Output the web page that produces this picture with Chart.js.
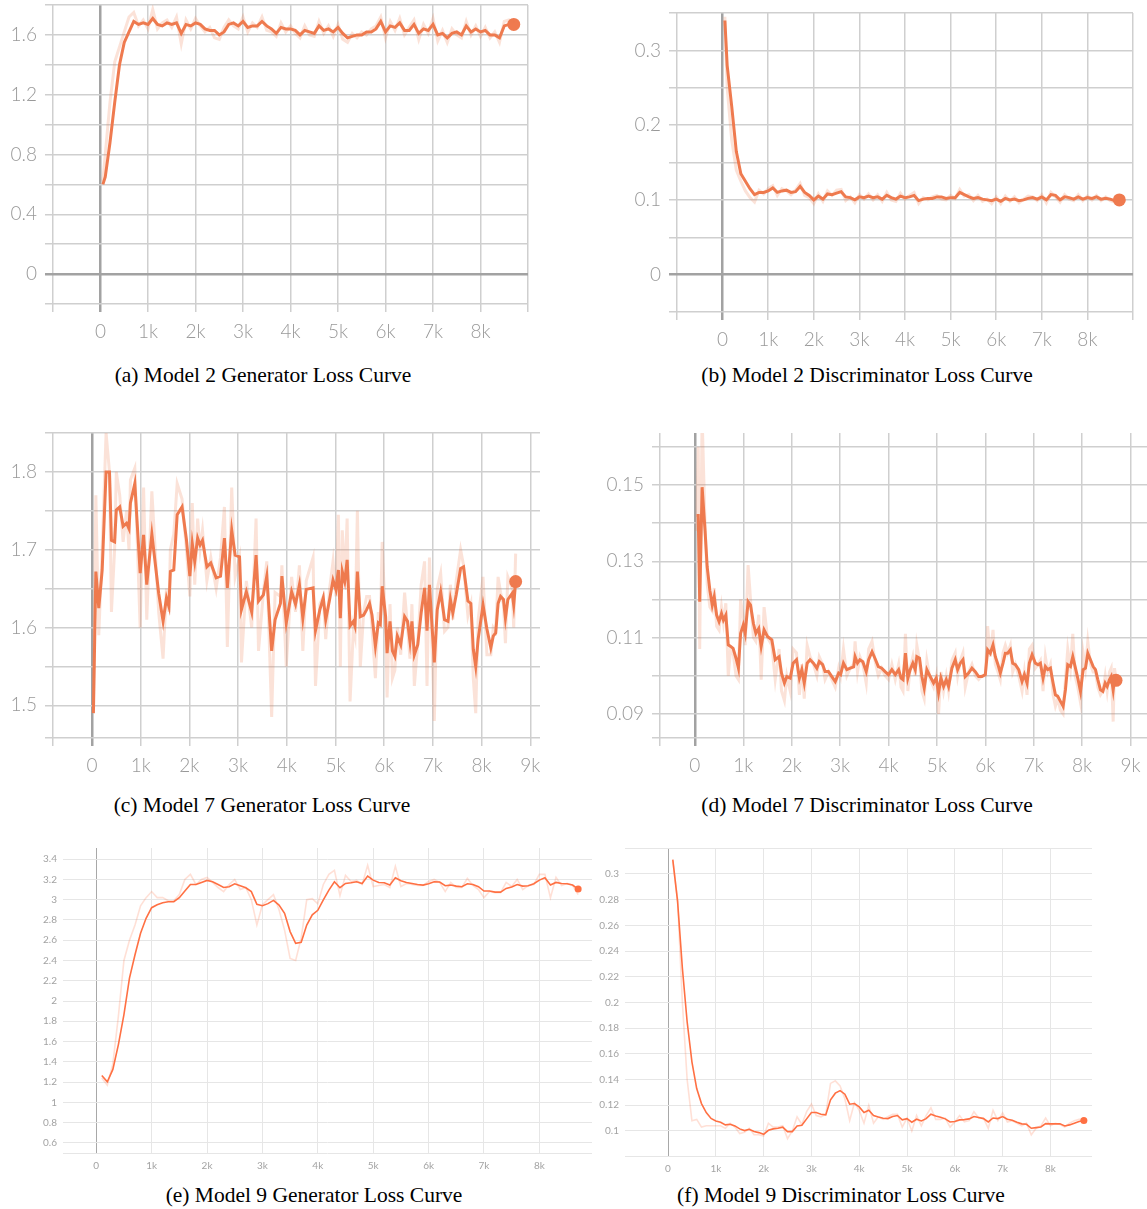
<!DOCTYPE html>
<html lang="en">
<head>
<meta charset="UTF-8">
<title>Loss Curves</title>
<script src="https://cdn.jsdelivr.net/npm/chart.js"></script>
<style>
  html, body { margin: 0; padding: 0; background: #fff; }
  body { position: relative; width: 1147px; height: 1209px; overflow: hidden; }
  canvas { position: absolute; }
  .caption {
    position: absolute; width: 500px; text-align: center;
    font-family: "Liberation Serif", "Times New Roman", serif;
    font-size: 21.5px; line-height: 24px; color: #000;
  }
</style>
</head>
<body>

<div class="caption" style="left:13px; top:363px;">(a) Model 2 Generator Loss Curve</div>
<div class="caption" style="left:617px; top:363px;">(b) Model 2 Discriminator Loss Curve</div>
<div class="caption" style="left:12px; top:793px;">(c) Model 7 Generator Loss Curve</div>
<div class="caption" style="left:617px; top:793px;">(d) Model 7 Discriminator Loss Curve</div>
<div class="caption" style="left:64px; top:1183px;">(e) Model 9 Generator Loss Curve</div>
<div class="caption" style="left:591px; top:1183px;">(f) Model 9 Discriminator Loss Curve</div>

<script>
// ---- data ----
const stepsM2 = [50,100,200,300,400,500,600,700,800,900,
    1000,1100,1200,1300,1400,1500,1600,1700,1800,1900,
    2000,2100,2200,2300,2400,2500,2600,2700,2800,2900,
    3000,3100,3200,3300,3400,3500,3600,3700,3800,3900,
    4000,4100,4200,4300,4400,4500,4600,4700,4800,4900,
    5000,5100,5200,5300,5400,5500,5600,5700,5800,5900,
    6000,6100,6200,6300,6400,6500,6600,6700,6800,6900,
    7000,7100,7200,7300,7400,7500,7600,7700,7800,7900,
    8000,8100,8200,8300,8400,8500,8600,8700];

const genLossM2 = [0.60,0.65,0.88,1.15,1.40,1.55,1.62,1.69,1.67,1.68,
    1.67,1.71,1.67,1.66,1.68,1.67,1.68,1.61,1.67,1.66,
    1.68,1.67,1.64,1.63,1.63,1.60,1.62,1.67,1.68,1.66,
    1.69,1.65,1.66,1.66,1.69,1.66,1.64,1.61,1.65,1.64,
    1.64,1.63,1.60,1.63,1.62,1.61,1.66,1.63,1.64,1.62,
    1.65,1.61,1.58,1.59,1.60,1.60,1.62,1.62,1.64,1.69,
    1.62,1.66,1.65,1.68,1.63,1.63,1.67,1.61,1.64,1.63,
    1.67,1.60,1.61,1.58,1.61,1.62,1.60,1.66,1.62,1.64,
    1.62,1.63,1.60,1.60,1.58,1.66,1.67,1.67];

const genLossM2Raw = [0.62,0.80,1.15,1.42,1.52,1.62,1.72,1.75,1.66,1.70,
    1.64,1.77,1.64,1.68,1.70,1.65,1.72,1.54,1.70,1.64,
    1.71,1.66,1.62,1.65,1.58,1.57,1.65,1.70,1.66,1.64,
    1.72,1.62,1.68,1.65,1.72,1.63,1.62,1.59,1.68,1.62,
    1.66,1.61,1.58,1.66,1.60,1.59,1.69,1.61,1.66,1.59,
    1.67,1.57,1.55,1.61,1.58,1.62,1.60,1.64,1.66,1.72,
    1.58,1.69,1.63,1.71,1.60,1.65,1.70,1.57,1.67,1.61,
    1.71,1.56,1.63,1.55,1.64,1.60,1.58,1.69,1.60,1.66,
    1.59,1.65,1.58,1.62,1.55,1.69,1.70,1.68];

const discLossM2 = [0.340,0.280,0.225,0.165,0.135,0.125,0.115,0.107,0.110,0.110,
    0.112,0.116,0.110,0.112,0.113,0.110,0.111,0.118,0.110,0.106,
    0.100,0.105,0.101,0.108,0.107,0.109,0.111,0.104,0.103,0.100,
    0.104,0.103,0.105,0.103,0.104,0.101,0.106,0.103,0.101,0.105,
    0.103,0.104,0.106,0.099,0.101,0.102,0.102,0.104,0.104,0.102,
    0.103,0.103,0.110,0.107,0.104,0.102,0.103,0.101,0.100,0.099,
    0.101,0.098,0.102,0.100,0.101,0.099,0.100,0.102,0.103,0.101,
    0.104,0.100,0.107,0.106,0.100,0.104,0.103,0.101,0.104,0.101,
    0.103,0.102,0.104,0.101,0.102,0.101,0.099,0.100];

const discLossM2Raw = [0.345,0.250,0.180,0.140,0.125,0.112,0.103,0.097,0.113,0.108,
    0.115,0.119,0.106,0.115,0.112,0.107,0.113,0.122,0.106,0.103,
    0.095,0.108,0.098,0.112,0.106,0.113,0.114,0.099,0.104,0.096,
    0.107,0.101,0.108,0.100,0.107,0.098,0.110,0.100,0.098,0.109,
    0.101,0.106,0.110,0.095,0.103,0.100,0.104,0.106,0.101,0.100,
    0.106,0.102,0.114,0.105,0.107,0.099,0.106,0.098,0.101,0.095,
    0.104,0.095,0.105,0.098,0.104,0.096,0.101,0.105,0.104,0.099,
    0.107,0.096,0.110,0.104,0.097,0.107,0.101,0.099,0.107,0.099,
    0.105,0.100,0.106,0.099,0.104,0.099,0.097,0.101];

const stepsGenM7 = [30,80,140,210,290,360,400,465,500,570,
    640,710,760,790,880,990,1060,1125,1230,1370,
    1460,1530,1580,1610,1680,1750,1850,1940,2010,2060,
    2110,2170,2220,2270,2360,2440,2550,2640,2720,2780,
    2870,2940,3030,3070,3170,3280,3370,3420,3520,3590,
    3690,3760,3870,3900,3990,4100,4180,4260,4330,4400,
    4540,4590,4680,4750,4800,4880,4950,5010,5060,5100,
    5140,5190,5240,5300,5370,5400,5450,5510,5580,5640,
    5700,5750,5820,5880,5920,5960,6030,6060,6120,6170,
    6220,6270,6340,6420,6480,6530,6570,6620,6690,6760,
    6830,6880,6930,7030,7090,7160,7240,7310,7360,7410,
    7480,7570,7630,7720,7780,7830,7880,7930,8030,8110,
    8190,8240,8290,8340,8390,8450,8490,8540,8630,8660,
    8700];

const genLossM7 = [1.490,1.672,1.625,1.674,1.800,1.800,1.712,1.710,1.751,1.755,
    1.730,1.734,1.727,1.760,1.785,1.670,1.719,1.655,1.720,1.644,
    1.608,1.638,1.627,1.672,1.674,1.745,1.755,1.713,1.666,1.708,
    1.685,1.715,1.706,1.712,1.678,1.683,1.664,1.666,1.715,1.651,
    1.725,1.693,1.691,1.623,1.646,1.620,1.693,1.634,1.642,1.666,
    1.570,1.610,1.631,1.666,1.606,1.646,1.630,1.655,1.612,1.649,
    1.651,1.596,1.623,1.638,1.610,1.636,1.661,1.649,1.674,1.612,
    1.672,1.659,1.687,1.602,1.608,1.602,1.672,1.614,1.616,1.623,
    1.631,1.616,1.576,1.606,1.604,1.653,1.614,1.567,1.608,1.570,
    1.563,1.589,1.578,1.614,1.608,1.582,1.608,1.565,1.578,1.619,
    1.651,1.596,1.655,1.555,1.623,1.646,1.610,1.608,1.636,1.619,
    1.642,1.676,1.678,1.634,1.631,1.572,1.550,1.585,1.629,1.598,
    1.574,1.589,1.593,1.631,1.640,1.636,1.612,1.636,1.644,1.629,
    1.659];

const genLossM7Raw = [1.500,1.770,1.590,1.700,1.850,1.800,1.620,1.700,1.800,1.770,
    1.710,1.750,1.700,1.790,1.805,1.600,1.780,1.610,1.775,1.620,
    1.560,1.650,1.620,1.700,1.720,1.785,1.765,1.700,1.640,1.760,
    1.655,1.740,1.700,1.725,1.660,1.690,1.650,1.690,1.755,1.575,
    1.780,1.665,1.690,1.555,1.660,1.600,1.740,1.570,1.645,1.685,
    1.485,1.645,1.640,1.680,1.550,1.665,1.620,1.680,1.570,1.660,
    1.690,1.525,1.630,1.640,1.585,1.650,1.685,1.640,1.745,1.550,
    1.725,1.660,1.740,1.505,1.600,1.590,1.750,1.550,1.620,1.640,
    1.640,1.600,1.535,1.620,1.600,1.710,1.600,1.510,1.630,1.535,
    1.545,1.600,1.565,1.645,1.600,1.560,1.630,1.525,1.580,1.655,
    1.685,1.525,1.690,1.480,1.650,1.670,1.595,1.600,1.655,1.610,
    1.660,1.700,1.680,1.615,1.630,1.535,1.490,1.610,1.665,1.565,
    1.565,1.600,1.595,1.665,1.645,1.630,1.580,1.665,1.650,1.600,
    1.695];

const stepsDiscM7 = [35,70,100,150,210,255,310,360,400,450,
    500,550,590,640,690,740,790,850,900,945,
    1000,1040,1100,1150,1210,1260,1320,1370,1430,1500,
    1590,1660,1740,1790,1850,1900,1970,2030,2100,2160,
    2210,2260,2320,2380,2450,2520,2570,2640,2690,2760,
    2830,2900,2970,3010,3070,3140,3210,3280,3310,3360,
    3410,3470,3540,3590,3660,3720,3790,3860,3930,4000,
    4070,4140,4210,4260,4300,4350,4400,4448,4503,4552,
    4586,4641,4690,4738,4793,4862,4931,4986,5034,5083,
    5138,5193,5241,5310,5379,5428,5483,5538,5586,5655,
    5724,5793,5862,5931,6000,6048,6103,6159,6207,6262,
    6310,6366,6414,6462,6517,6566,6621,6690,6759,6807,
    6862,6910,6966,7034,7090,7138,7193,7241,7290,7345,
    7400,7448,7497,7552,7607,7655,7703,7759,7807,7855,
    7910,7966,8021,8069,8117,8172,8228,8276,8324,8379,
    8428,8476,8517,8566,8600,8641,8669,8700];

const discLossM7 = [0.1420,0.1420,0.1194,0.1494,0.1381,0.1285,0.1224,0.1185,0.1207,0.1159,
    0.1142,0.1163,0.1146,0.1159,0.1081,0.1077,0.1072,0.1046,0.1020,0.1111,
    0.1133,0.1111,0.1194,0.1185,0.1137,0.1111,0.1124,0.1077,0.1120,0.1103,
    0.1094,0.1042,0.1050,0.1007,0.0981,0.0998,0.0994,0.1033,0.1042,0.0994,
    0.1016,0.0981,0.1033,0.1042,0.1033,0.1020,0.1037,0.1029,0.1011,0.1011,
    0.0998,0.0985,0.1007,0.1003,0.1033,0.1016,0.1020,0.1023,0.1050,0.1033,
    0.1042,0.1037,0.1011,0.1042,0.1063,0.1046,0.1024,0.1020,0.1011,0.1003,
    0.1016,0.1003,0.1016,0.0994,0.0990,0.1059,0.0994,0.1016,0.1033,0.1016,
    0.1050,0.1046,0.0998,0.0968,0.1016,0.0998,0.0981,0.0994,0.0955,0.0994,
    0.0972,0.0990,0.0972,0.1020,0.1042,0.1016,0.1033,0.1042,0.0998,0.1007,
    0.1020,0.1011,0.0998,0.0998,0.1003,0.1068,0.1059,0.1081,0.1050,0.1029,
    0.1007,0.1033,0.1059,0.1059,0.1068,0.1033,0.1029,0.1016,0.0985,0.1003,
    0.0981,0.1033,0.1055,0.1033,0.1029,0.1033,0.0994,0.1024,0.1016,0.1020,
    0.0981,0.0950,0.0946,0.0933,0.0920,0.0963,0.1029,0.1024,0.1050,0.1024,
    0.0994,0.0959,0.1016,0.1020,0.1059,0.1042,0.1024,0.1016,0.0990,0.0963,
    0.0959,0.0981,0.0972,0.0990,0.0998,0.0963,0.0994,0.0988];

const discLossM7Raw = [0.1380,0.1600,0.1070,0.1680,0.1400,0.1240,0.1180,0.1170,0.1230,0.1130,
    0.1120,0.1180,0.1140,0.1190,0.1000,0.1070,0.1060,0.1000,0.0990,0.1200,
    0.1150,0.1080,0.1290,0.1200,0.1100,0.1090,0.1160,0.0990,0.1180,0.1100,
    0.1080,0.0990,0.1070,0.0960,0.0935,0.1000,0.0960,0.1070,0.1060,0.0950,
    0.1030,0.0940,0.1080,0.1050,0.1030,0.1000,0.1050,0.1030,0.0990,0.1010,
    0.0990,0.0970,0.1020,0.1000,0.1070,0.1000,0.1020,0.1030,0.1090,0.1010,
    0.1050,0.1030,0.0980,0.1070,0.1090,0.1040,0.1000,0.1020,0.1000,0.0990,
    0.1030,0.0990,0.1030,0.0970,0.0960,0.1110,0.0960,0.1020,0.1050,0.1000,
    0.1080,0.1040,0.0960,0.0940,0.1040,0.0990,0.0970,0.1000,0.0900,0.1010,
    0.0960,0.1000,0.0960,0.1040,0.1060,0.1000,0.1040,0.1060,0.0970,0.1010,
    0.1030,0.1000,0.0990,0.1000,0.1000,0.1130,0.1050,0.1120,0.1030,0.1010,
    0.0990,0.1060,0.1080,0.1060,0.1080,0.1010,0.1030,0.1000,0.0960,0.1010,
    0.0950,0.1070,0.1080,0.1020,0.1030,0.1040,0.0960,0.1050,0.1010,0.1030,
    0.0950,0.0920,0.0940,0.0910,0.0900,0.0990,0.1070,0.1020,0.1110,0.1000,
    0.0970,0.0930,0.1060,0.1020,0.1090,0.1030,0.1010,0.1010,0.0970,0.0950,
    0.0960,0.1000,0.0960,0.1010,0.1020,0.0880,0.1020,0.0990];

const stepsM9 = [100,200,300,400,500,600,700,800,900,1000,
    1100,1200,1300,1400,1500,1600,1700,1800,1900,2000,
    2100,2200,2300,2400,2500,2600,2700,2800,2900,3000,
    3100,3200,3300,3400,3500,3600,3700,3800,3900,4000,
    4100,4200,4300,4400,4500,4600,4700,4800,4900,5000,
    5100,5200,5300,5400,5500,5600,5700,5800,5900,6000,
    6100,6200,6300,6400,6500,6600,6700,6800,6900,7000,
    7100,7200,7300,7400,7500,7600,7700,7800,7900,8000,
    8100,8200,8300,8400,8500,8600,8700];

const genLossM9 = [1.265,1.203,1.325,1.570,1.866,2.226,2.456,2.669,2.816,2.921,
    2.950,2.970,2.980,2.980,3.020,3.085,3.150,3.150,3.170,3.190,
    3.177,3.150,3.120,3.128,3.157,3.138,3.118,3.080,2.954,2.941,
    2.961,2.993,2.947,2.866,2.685,2.570,2.580,2.750,2.850,2.895,
    2.997,3.095,3.177,3.118,3.160,3.167,3.177,3.160,3.233,3.193,
    3.170,3.167,3.144,3.216,3.187,3.170,3.160,3.150,3.144,3.157,
    3.177,3.174,3.138,3.144,3.134,3.128,3.157,3.150,3.128,3.085,
    3.085,3.075,3.075,3.111,3.125,3.150,3.134,3.138,3.157,3.193,
    3.216,3.144,3.170,3.160,3.157,3.144,3.105];

const genLossM9Raw = [1.24,1.17,1.38,1.85,2.40,2.60,2.75,2.94,3.02,3.08,
    3.02,3.02,2.99,2.99,3.05,3.20,3.25,3.15,3.20,3.22,
    3.17,3.12,3.08,3.15,3.20,3.10,3.12,3.00,2.75,2.95,
    3.00,3.05,2.90,2.70,2.42,2.40,2.62,3.00,3.01,2.96,
    3.15,3.25,3.29,3.04,3.24,3.18,3.19,3.15,3.34,3.13,
    3.14,3.15,3.12,3.33,3.13,3.16,3.15,3.14,3.14,3.18,
    3.20,3.17,3.08,3.17,3.12,3.12,3.21,3.14,3.10,3.02,
    3.08,3.07,3.07,3.17,3.13,3.20,3.10,3.14,3.15,3.25,
    3.25,3.02,3.22,3.14,3.16,3.14,3.05];

const discLossM9 = [0.3112,0.2787,0.2268,0.1850,0.1538,0.1330,0.1213,0.1143,0.1097,0.1078,
    0.1068,0.1047,0.1052,0.1039,0.1016,0.1003,0.1013,0.0995,0.0987,0.0974,
    0.1005,0.1016,0.1021,0.1029,0.0995,0.0995,0.1039,0.1044,0.1094,0.1143,
    0.1143,0.1130,0.1125,0.1242,0.1294,0.1314,0.1286,0.1208,0.1213,0.1187,
    0.1143,0.1161,0.1120,0.1109,0.1099,0.1096,0.1112,0.1120,0.1086,0.1096,
    0.1068,0.1091,0.1078,0.1096,0.1130,0.1117,0.1107,0.1094,0.1070,0.1073,
    0.1086,0.1088,0.1094,0.1112,0.1104,0.1096,0.1070,0.1101,0.1096,0.1112,
    0.1091,0.1083,0.1068,0.1055,0.1052,0.1021,0.1026,0.1031,0.1057,0.1055,
    0.1055,0.1055,0.1039,0.1047,0.1060,0.1073,0.1081];

const discLossM9Raw = [0.310,0.280,0.200,0.140,0.108,0.109,0.103,0.104,0.104,0.104,
    0.104,0.102,0.106,0.103,0.098,0.099,0.102,0.097,0.097,0.096,
    0.106,0.103,0.103,0.104,0.094,0.100,0.111,0.105,0.115,0.121,
    0.112,0.111,0.113,0.137,0.139,0.135,0.125,0.108,0.122,0.116,
    0.106,0.120,0.106,0.111,0.109,0.111,0.113,0.113,0.103,0.110,
    0.100,0.112,0.104,0.112,0.118,0.109,0.109,0.110,0.103,0.107,
    0.112,0.107,0.108,0.115,0.110,0.110,0.102,0.116,0.108,0.114,
    0.107,0.108,0.106,0.104,0.106,0.097,0.102,0.104,0.110,0.104,
    0.106,0.105,0.103,0.106,0.108,0.109,0.109];

// ---- ticks ----
const xTicksM2 = [-1000,0,1000,2000,3000,4000,5000,6000,7000,8000,9000];
const xLabelsM2 = [0,1000,2000,3000,4000,5000,6000,7000,8000];
const yTicksGenM2 = [-0.2,0,0.2,0.4,0.6,0.8,1.0,1.2,1.4,1.6,1.8];
const yLabelsGenM2 = [0,0.4,0.8,1.2,1.6];
const yTicksDiscM2 = [-0.05,0,0.05,0.1,0.15,0.2,0.25,0.3,0.35];
const yLabelsDiscM2 = [0,0.1,0.2,0.3];

const xTicksGenM7 = [-800,0,1000,2000,3000,4000,5000,6000,7000,8000,9000];
const xTicksDiscM7 = [-720,0,1000,2000,3000,4000,5000,6000,7000,8000,9000];
const xLabelsM7 = [0,1000,2000,3000,4000,5000,6000,7000,8000,9000];
const yTicksGenM7 = [1.458,1.5,1.55,1.6,1.65,1.7,1.75,1.8,1.85];
const yLabelsGenM7 = [1.5,1.6,1.7,1.8];
const yTicksDiscM7 = [0.0837,0.09,0.10,0.11,0.12,0.13,0.14,0.15,0.16];
const yLabelsDiscM7 = [0.09,0.11,0.13,0.15];

const xTicksM9 = [0,1000,2000,3000,4000,5000,6000,7000,8000];
const yTicksGenM9 = [0.5,0.6,0.8,1,1.2,1.4,1.6,1.8,2,2.2,2.4,2.6,2.8,3,3.2,3.4];
const yLabelsGenM9 = [0.6,0.8,1,1.2,1.4,1.6,1.8,2,2.2,2.4,2.6,2.8,3,3.2,3.4];
const yTicksDiscM9 = [0.0805,0.1,0.12,0.14,0.16,0.18,0.2,0.22,0.24,0.26,0.28,0.3,0.3202];
const yLabelsDiscM9 = [0.1,0.12,0.14,0.16,0.18,0.2,0.22,0.24,0.26,0.28,0.3];

// ---- styles ----
const oldStyle = {
    gridColor: '#cfcfcf', gridWidth: 1.5, zeroColor: '#a2a2a2', zeroWidth: 2.5,
    tickLength: 8, xPad: 8, yPad: 8,
    labelColor: '#999999', font: { family: "Lato, 'Open Sans', sans-serif", size: 19, weight: '300' },
    lineColor: '#ef7a4f', rawColor: 'rgba(239,122,79,0.22)', lineWidth: 3, dotRadius: 6.5
};
const newStyle = {
    gridColor: '#e6e6e6', gridWidth: 1, zeroColor: '#a8a8a8', zeroWidth: 1,
    tickLength: 0, xPad: 7, yPad: 6,
    labelColor: '#a3a3a3', font: { family: "Lato, 'Open Sans', sans-serif", size: 10 },
    lineColor: '#ff7043', rawColor: 'rgba(255,112,67,0.22)', lineWidth: 1.6, dotRadius: 3.5
};

function hasValue(list, v) {
    return list.some(function (t) { return Math.abs(t - v) < 1e-7; });
}

function drawPanel(p) {
    const st = p.style;
    const pad = 25;
    const L = p.box[0], T = p.box[1], R = p.box[2], B = p.box[3];
    const w = p.yw + (R - L) + pad;
    const h = pad + (B - T) + p.xh;

    const canvas = document.createElement('canvas');
    canvas.width = w;
    canvas.height = h;
    canvas.style.left = (L - p.yw) + 'px';
    canvas.style.top = (T - pad) + 'px';
    canvas.style.width = w + 'px';
    canvas.style.height = h + 'px';
    document.body.appendChild(canvas);

    const raw = p.steps.map(function (s, i) { return { x: s, y: p.raw[i] }; });
    const smooth = p.steps.map(function (s, i) { return { x: s, y: p.smooth[i] }; });
    const last = smooth.length - 1;

    const gridColor = function (c) { return (c.tick && c.tick.value === 0) ? st.zeroColor : st.gridColor; };
    const gridWidth = function (c) { return (c.tick && c.tick.value === 0) ? st.zeroWidth : st.gridWidth; };

    new Chart(canvas, {
        type: 'line',
        data: {
            datasets: [{
                data: raw,
                borderColor: st.rawColor,
                borderWidth: st.lineWidth,
                pointRadius: 0,
                tension: 0
            }, {
                data: smooth,
                borderColor: st.lineColor,
                backgroundColor: st.lineColor,
                borderWidth: st.lineWidth,
                pointRadius: function (c) { return c.dataIndex === last ? st.dotRadius : 0; },
                pointBorderWidth: 0,
                pointBackgroundColor: st.lineColor,
                tension: 0
            }]
        },
        options: {
            responsive: false,
            animation: false,
            devicePixelRatio: 1,
            events: [],
            layout: { padding: { left: 0, top: pad, right: pad, bottom: 0 } },
            plugins: { legend: { display: false }, tooltip: { enabled: false } },
            scales: {
                x: {
                    type: 'linear', min: p.x[0], max: p.x[1],
                    afterBuildTicks: function (s) { s.ticks = p.xTicks.map(function (v) { return { value: v }; }); },
                    afterFit: function (s) { s.height = p.xh; },
                    border: { display: false },
                    grid: { color: gridColor, lineWidth: gridWidth, drawTicks: st.tickLength > 0, tickLength: st.tickLength },
                    ticks: {
                        autoSkip: false, maxRotation: 0, padding: st.xPad,
                        color: st.labelColor, font: st.font,
                        callback: function (v) {
                            if (!hasValue(p.xLabels, v)) return '';
                            return v === 0 ? '0' : (v / 1000) + 'k';
                        }
                    }
                },
                y: {
                    type: 'linear', min: p.y[0], max: p.y[1],
                    afterBuildTicks: function (s) { s.ticks = p.yTicks.map(function (v) { return { value: v }; }); },
                    afterFit: function (s) { s.width = p.yw; },
                    border: { display: false },
                    grid: { color: gridColor, lineWidth: gridWidth, drawTicks: st.tickLength > 0, tickLength: st.tickLength },
                    ticks: {
                        autoSkip: false, padding: st.yPad,
                        color: st.labelColor, font: st.font,
                        callback: function (v) {
                            if (!hasValue(p.yLabels, v)) return '';
                            return String(parseFloat(v.toFixed(4)));
                        }
                    }
                }
            }
        }
    });
}

drawPanel({ style: oldStyle, box: [53, 5, 528, 304], yw: 53, xh: 45,
    x: [-1000, 9000], y: [-0.2, 1.8], xTicks: xTicksM2, xLabels: xLabelsM2,
    yTicks: yTicksGenM2, yLabels: yLabelsGenM2,
    steps: stepsM2, smooth: genLossM2, raw: genLossM2Raw });

drawPanel({ style: oldStyle, box: [677, 13, 1133, 312], yw: 70, xh: 45,
    x: [-1000, 9000], y: [-0.05, 0.35], xTicks: xTicksM2, xLabels: xLabelsM2,
    yTicks: yTicksDiscM2, yLabels: yLabelsDiscM2,
    steps: stepsM2, smooth: discLossM2, raw: discLossM2Raw });

drawPanel({ style: oldStyle, box: [53, 433, 540, 738], yw: 53, xh: 45,
    x: [-800, 9200], y: [1.458, 1.85], xTicks: xTicksGenM7, xLabels: xLabelsM7,
    yTicks: yTicksGenM7, yLabels: yLabelsGenM7,
    steps: stepsGenM7, smooth: genLossM7, raw: genLossM7Raw });

drawPanel({ style: oldStyle, box: [660, 433, 1147, 738], yw: 70, xh: 45,
    x: [-720, 9340], y: [0.0837, 0.1636], xTicks: xTicksDiscM7, xLabels: xLabelsM7,
    yTicks: yTicksDiscM7, yLabels: yLabelsDiscM7,
    steps: stepsDiscM7, smooth: discLossM7, raw: discLossM7Raw });

drawPanel({ style: newStyle, box: [63, 848, 592, 1153], yw: 63, xh: 30,
    x: [-600, 8950], y: [0.5, 3.51], xTicks: xTicksM9, xLabels: xTicksM9,
    yTicks: yTicksGenM9, yLabels: yLabelsGenM9,
    steps: stepsM9, smooth: genLossM9, raw: genLossM9Raw });

drawPanel({ style: newStyle, box: [625, 848, 1092, 1156], yw: 60, xh: 30,
    x: [-900, 8870], y: [0.0805, 0.3202], xTicks: xTicksM9, xLabels: xTicksM9,
    yTicks: yTicksDiscM9, yLabels: yLabelsDiscM9,
    steps: stepsM9, smooth: discLossM9, raw: discLossM9Raw });
</script>
</body>
</html>
